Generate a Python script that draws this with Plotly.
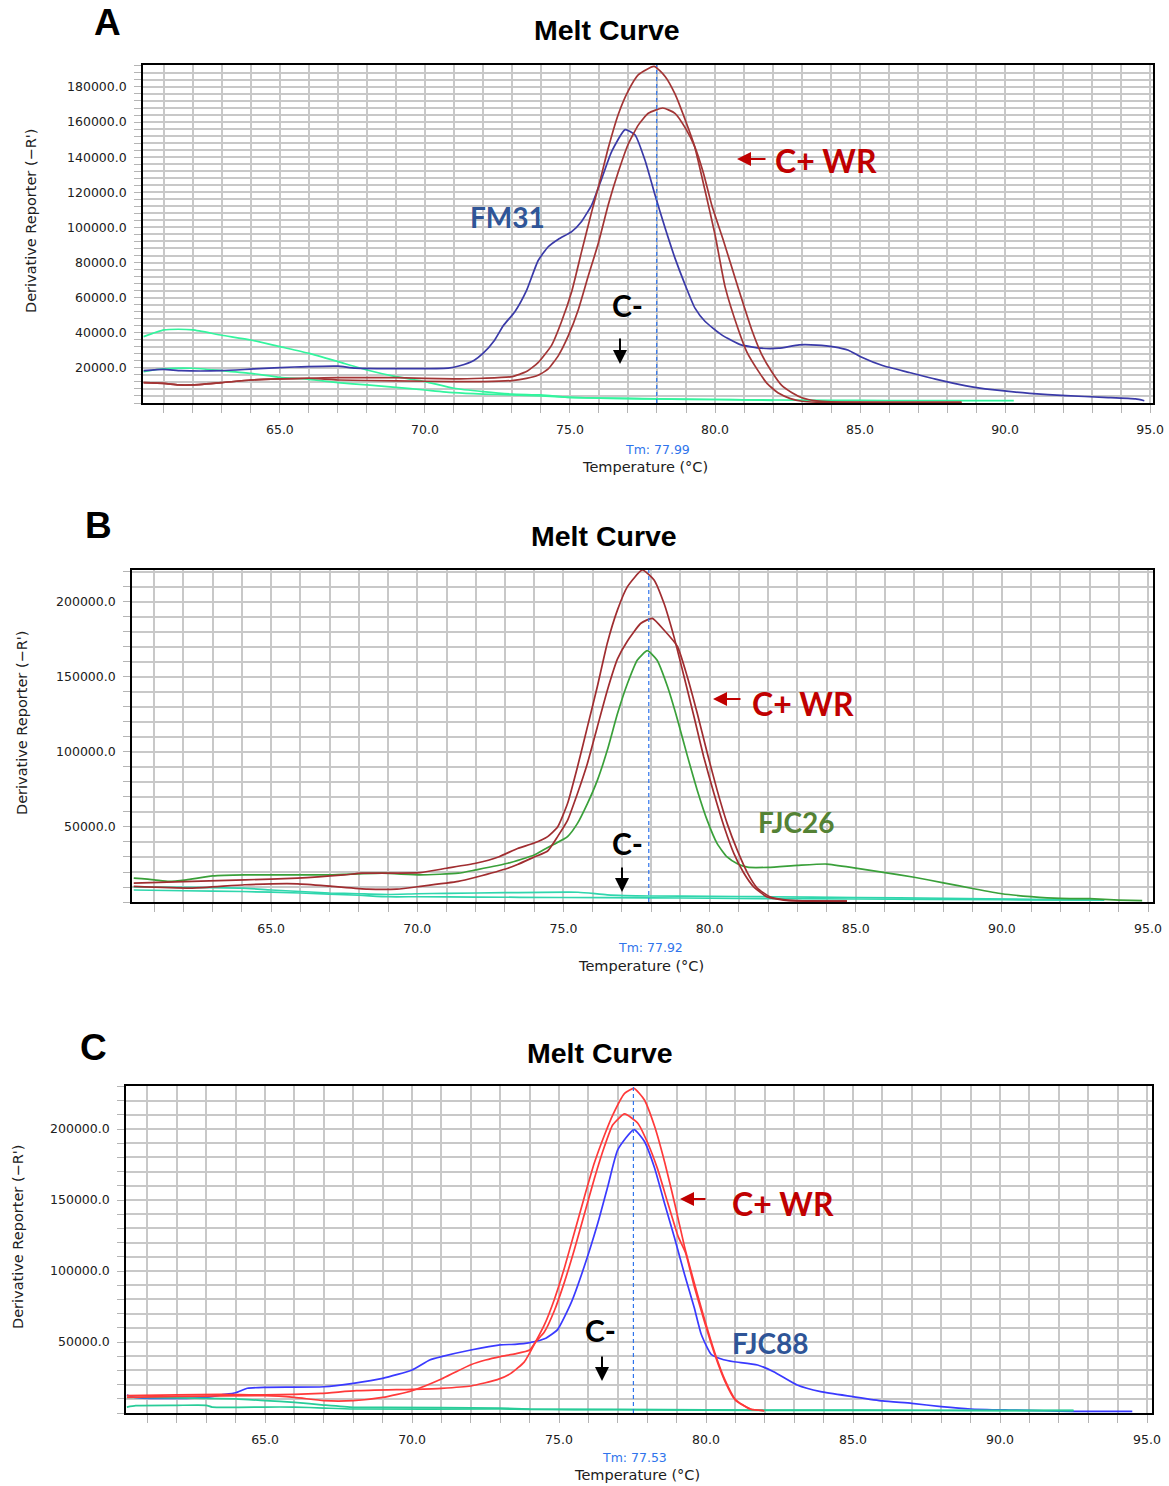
import plotly.graph_objects as go

W, H = 1169, 1486

# ---------------- Panel A data ----------------
a_cyan1_t = [60.3, 61.0, 61.5, 62.0, 63.0, 64.0, 65.0, 66.0, 67.0, 68.0, 69.0, 70.0, 71.0, 72.0, 73.0, 74.0, 75.0, 76.0, 77.0, 78.0, 79.0, 80.0, 81.0, 82.0]
a_cyan1_v = [37800, 41600, 42000, 41600, 38600, 35900, 32100, 28300, 23600, 18800, 15000, 12200, 8400, 6500, 5100, 4600, 3200, 2800, 2500, 2300, 2000, 2000, 1800, 1500]
a_cyan2_t = [60.3, 61.0, 62.0, 63.0, 64.0, 65.0, 66.0, 67.0, 68.0, 69.0, 70.0, 71.0, 72.0, 73.0, 74.0, 75.0, 76.0, 78.0, 80.0, 82.0, 84.0, 86.0, 88.0, 90.3]
a_cyan2_v = [17900, 19500, 19800, 18400, 16900, 14600, 13500, 11600, 10300, 8900, 7400, 5900, 5100, 4600, 4000, 3200, 2800, 2400, 2000, 1700, 1500, 1400, 1300, 1300]
a_blue_t = [60.3, 61.0, 61.6, 63.0, 64.1, 65.5, 67.0, 67.6, 70.8, 71.2, 71.7, 72.0, 72.4, 72.7, 73.1, 73.5, 73.9, 74.25, 74.6, 75.06, 75.4, 75.75, 76.1, 76.44, 76.9, 77.24, 77.6, 77.93, 78.28, 78.62, 78.97, 79.31, 79.66, 80.23, 80.9, 81.6, 82.2, 82.9, 83.5, 84.1, 84.6, 85.0, 85.8, 86.7, 87.6, 88.66, 89.56, 90.85, 92.1, 93.4, 94.5, 94.8]
a_blue_v = [18400, 19100, 18400, 18400, 19400, 20500, 21000, 19900, 19900, 21200, 24400, 28200, 35800, 44000, 52000, 64000, 81000, 89000, 93300, 97600, 103400, 112900, 128100, 143300, 155700, 152800, 137600, 118600, 99600, 82500, 67300, 54000, 46400, 38800, 33100, 31200, 31200, 33100, 33000, 32000, 30000, 26500, 21200, 17400, 13600, 9800, 7600, 5500, 4200, 3200, 2300, 1300]
a_red1_t = [60.3, 61.0, 61.5, 62.0, 63.0, 64.0, 65.0, 66.0, 67.0, 69.0, 71.0, 72.0, 73.0, 73.5, 73.9, 74.37, 74.71, 75.06, 75.4, 75.75, 76.03, 76.32, 76.67, 77.0, 77.36, 77.9, 78.28, 78.62, 79.0, 79.3, 79.6, 80.0, 80.35, 80.8, 81.1, 81.5, 81.8, 82.2, 82.6, 83.0, 83.5, 85.0, 88.5]
a_red1_v = [11600, 11200, 10300, 10300, 11600, 13100, 13700, 14100, 14400, 14400, 13700, 14100, 15000, 17900, 23000, 33000, 46400, 63500, 86200, 109000, 126200, 145200, 164600, 177500, 187000, 191700, 186000, 176000, 160000, 146000, 125000, 96000, 66000, 42000, 29000, 18000, 11000, 5500, 2500, 1000, 500, 400, 400]
a_red2_t = [60.3, 61.0, 61.5, 62.0, 63.0, 64.0, 65.0, 66.0, 67.0, 69.0, 71.0, 72.0, 73.0, 73.5, 73.9, 74.25, 74.6, 74.94, 75.29, 75.63, 75.98, 76.32, 76.67, 77.0, 77.36, 77.7, 78.2, 78.62, 79.0, 79.3, 79.6, 79.9, 80.3, 80.8, 81.26, 81.6, 81.95, 82.3, 82.64, 83.0, 83.5, 84.0, 86.0, 88.5]
a_red2_v = [11600, 11200, 10300, 10300, 11600, 13100, 13700, 14100, 13100, 12600, 12200, 12200, 12800, 14000, 15800, 19400, 27000, 38200, 53300, 72300, 91100, 112900, 131800, 147100, 158400, 165000, 168000, 165000, 156000, 146000, 131000, 112000, 92000, 65500, 42000, 28000, 17900, 10000, 6000, 3000, 1200, 600, 400, 400]

# ---------------- Panel B data ----------------
b_cyan1_t = [60.3, 62, 64, 65, 66, 67, 68, 69, 70, 71, 73, 75.5, 76.5, 78, 80, 82, 85, 88, 91, 93.5]
b_cyan1_v = [10000, 9800, 9300, 8000, 7000, 6000, 5500, 5000, 5500, 5800, 6200, 6500, 4800, 4000, 3800, 3500, 3000, 2500, 1800, 1300]
b_cyan2_t = [60.3, 62, 64, 66, 68, 69, 70, 72, 75, 78, 80, 85, 90, 93.5]
b_cyan2_v = [8000, 7500, 7000, 6000, 4500, 3500, 3500, 3300, 3000, 2800, 2500, 2000, 1500, 1300]
b_green_t = [60.3, 61.0, 61.5, 62.1, 63.0, 64.1, 67.0, 68.8, 70.1, 71.4, 72.0, 73.1, 74.0, 74.34, 74.68, 75.14, 75.48, 75.82, 76.16, 76.5, 76.85, 77.19, 77.53, 77.87, 78.2, 78.56, 78.9, 79.24, 79.58, 79.92, 80.26, 80.6, 80.95, 81.3, 82.0, 83.0, 84.0, 85.0, 86.0, 87.0, 88.0, 89.0, 90.0, 91.0, 92.0, 93.0, 94.0, 94.8]
b_green_v = [15900, 14800, 13700, 14800, 17400, 18100, 18100, 19200, 18100, 19200, 21400, 25800, 31300, 35000, 38500, 43600, 52400, 65600, 81100, 101100, 125600, 145600, 161300, 167500, 161300, 143600, 121700, 97400, 74400, 54400, 38900, 30000, 25500, 23200, 23100, 24400, 25300, 22600, 19600, 16500, 12800, 9000, 5500, 3600, 2400, 2200, 1300, 900]
b_red1_t = [60.3, 62.3, 64.1, 65.9, 67.5, 68.1, 70.1, 71.0, 72.0, 72.8, 73.43, 74.0, 74.46, 74.8, 75.14, 75.48, 75.82, 76.16, 76.5, 76.85, 77.19, 77.7, 78.1, 78.44, 78.78, 79.13, 79.47, 79.8, 80.15, 80.5, 80.83, 81.17, 81.5, 81.97, 82.54, 83.0, 84.7]
b_red1_v = [12600, 13700, 14800, 15900, 18100, 19200, 19600, 22500, 25800, 30200, 35700, 39300, 43600, 50000, 65600, 90000, 116700, 143600, 172500, 194700, 210200, 221300, 214700, 199100, 176900, 150000, 123300, 96700, 72300, 50000, 32400, 19300, 10300, 3300, 1300, 800, 600]
b_red2_t = [60.3, 62.3, 64.1, 65.9, 67.1, 68.3, 69.3, 70.1, 71.4, 72.0, 73.1, 73.43, 74.0, 74.46, 74.8, 75.14, 75.48, 75.82, 76.16, 76.5, 76.85, 77.19, 77.65, 78.04, 78.44, 78.9, 79.24, 79.58, 79.92, 80.26, 80.6, 80.95, 81.3, 81.63, 82.08, 82.65, 83.5, 84.7]
b_red2_v = [10400, 9300, 11500, 12100, 10400, 8600, 8600, 10400, 13700, 16500, 22500, 25000, 30000, 34000, 43600, 54400, 72300, 92300, 116700, 141000, 162000, 174000, 185800, 189100, 181300, 170300, 150000, 125600, 99300, 74400, 52400, 34400, 19300, 9300, 3300, 1300, 700, 600]

# ---------------- Panel C data ----------------
c_cyan1_t = [60.3, 62, 64, 65, 66, 67, 68, 69, 73, 74, 77, 80, 85, 90, 92.5]
c_cyan1_v = [11000, 10600, 9900, 8700, 7500, 5600, 4000, 4000, 3500, 2800, 2500, 2200, 2000, 1900, 1800]
c_cyan2_t = [60.3, 60.6, 62, 63, 63.2, 65, 66, 67, 68, 73, 74, 77, 80, 85, 90, 92.5]
c_cyan2_v = [4200, 5200, 5400, 5400, 4200, 4200, 4200, 3500, 2800, 2800, 2500, 2300, 2000, 1800, 1700, 1700]
c_blue_t = [60.3, 60.57, 62, 63, 63.5, 64.0, 64.4, 65, 67, 68, 69, 70, 70.6, 71, 72, 73, 73.5, 74.0, 74.55, 74.95, 75.41, 75.86, 76.32, 76.66, 77.0, 77.55, 77.9, 78.25, 78.6, 78.93, 79.27, 79.6, 79.84, 80.18, 80.6, 80.95, 81.75, 82.3, 83.1, 83.9, 85.0, 86.0, 87.0, 88.0, 89.0, 90.3, 91.5, 92.5, 94.5]
c_blue_v = [12700, 11000, 10300, 11000, 12700, 14300, 17400, 18100, 18500, 20900, 24400, 30300, 37300, 39700, 44400, 48000, 48400, 49600, 52700, 58700, 77500, 103300, 133800, 159700, 185500, 199600, 191400, 172600, 146800, 123300, 97500, 74100, 55300, 41200, 37500, 36100, 33800, 29100, 19700, 15000, 11500, 8500, 6800, 4500, 2800, 2100, 1600, 1200, 1200]
c_red1_t = [60.3, 62, 63.5, 65, 66.9, 68.1, 70, 71, 72, 72.9, 73.36, 73.82, 74.2, 74.5, 74.84, 75.18, 75.52, 75.86, 76.2, 76.55, 76.83, 77.23, 77.55, 77.9, 78.25, 78.6, 78.93, 79.27, 79.6, 79.95, 80.3, 80.64, 81.0, 81.5, 81.98]
c_red1_v = [12200, 12700, 13100, 12700, 13800, 15700, 16700, 17400, 19000, 23500, 27900, 36000, 50000, 62000, 80000, 102000, 127000, 152000, 176000, 196000, 210000, 225100, 228600, 220600, 201900, 176100, 147900, 117000, 91600, 65800, 42300, 23500, 9400, 2800, 1600]
c_red2_t = [60.3, 62, 65, 66, 67, 68, 69, 70, 71, 71.5, 72, 72.5, 73, 73.5, 74.0, 74.2, 74.5, 74.84, 75.18, 75.52, 75.86, 76.2, 76.55, 76.83, 77.23, 77.68, 78.02, 78.36, 78.7, 79.05, 79.3, 79.6, 79.95, 80.3, 80.64, 81.0, 81.5, 81.98]
c_red2_v = [11000, 11700, 12200, 11000, 8700, 8700, 11000, 15700, 23900, 29100, 34000, 37300, 39700, 41600, 44400, 50000, 57000, 72000, 92000, 115000, 140000, 165000, 188000, 203000, 210600, 204100, 190000, 171400, 147900, 124400, 113000, 89000, 64000, 41000, 22500, 9000, 2800, 1600]

x_ticks = [65, 70, 75, 80, 85, 90, 95]
a_y_ticks = [20000, 40000, 60000, 80000, 100000, 120000, 140000, 160000, 180000]
bc_y_ticks = [50000, 100000, 150000, 200000]
tm_values = [77.99, 77.92, 77.53]
panel_letters = ["A", "B", "C"]

# ---------------- helpers ----------------
def px(x):
    return x / W

def py(y):
    return 1 - y / H

GRID = "#c8c8c8"
TICKC = "#b4b4b4"
TICKFONT = dict(family="DejaVu Sans", size=12.5, color="#202020")

fig = go.Figure()

panels = [
    dict(sfx="", xpix=(143, 1153), ypix=(65, 403), xr=[60.28, 95.10], yr=[0, 192500],
         yt=a_y_ticks, ydt=4000,
         series=[(a_cyan1_t, a_cyan1_v, "#33f59e"), (a_cyan2_t, a_cyan2_v, "#33f59e"),
                 (a_blue_t, a_blue_v, "#3a3aa8"),
                 (a_red1_t, a_red1_v, "#a33535"), (a_red2_t, a_red2_v, "#a33535")]),
    dict(sfx="2", xpix=(132, 1153), ypix=(570, 902), xr=[60.24, 95.17], yr=[0, 221300],
         yt=bc_y_ticks, ydt=10000,
         series=[(b_cyan1_t, b_cyan1_v, "#2fd6ad"), (b_cyan2_t, b_cyan2_v, "#2fd6ad"),
                 (b_green_t, b_green_v, "#3aa03a"),
                 (b_red1_t, b_red1_v, "#a02d30"), (b_red2_t, b_red2_v, "#a02d30")]),
    dict(sfx="3", xpix=(126, 1152), ypix=(1086, 1413), xr=[60.27, 95.17], yr=[0, 230300],
         yt=bc_y_ticks, ydt=10000,
         series=[(c_blue_t, c_blue_v, "#3a3aff"),
                 (c_cyan1_t, c_cyan1_v, "#28cc98"), (c_cyan2_t, c_cyan2_v, "#28cc98"),
                 (c_red1_t, c_red1_v, "#ff3a3a"), (c_red2_t, c_red2_v, "#ff3a3a")]),
]

layout = {}
shapes = []
for i, p in enumerate(panels):
    xa = "x" + p["sfx"]
    ya = "y" + p["sfx"]
    for (t, v, col) in p["series"]:
        fig.add_trace(go.Scatter(x=t, y=v, mode="lines", xaxis=xa, yaxis=ya,
                                 line=dict(color=col, width=1.7, shape="spline", smoothing=0.5),
                                 hoverinfo="skip", showlegend=False))
    layout["xaxis" + p["sfx"]] = dict(
        domain=[px(p["xpix"][0]), px(p["xpix"][1])], range=p["xr"], anchor=ya,
        automargin=False,
        tickmode="array", tickvals=x_ticks, tickformat=".1f",
        ticks="outside", ticklen=8, tickwidth=1, tickcolor=TICKC,
        showgrid=True, gridcolor=GRID, gridwidth=1.5,
        minor=dict(tickmode="linear", tick0=60, dtick=1, ticks="outside", ticklen=8,
                   tickwidth=1, tickcolor=TICKC, showgrid=True, gridcolor=GRID, gridwidth=1.5),
        showline=True, linecolor="black", linewidth=1.6, mirror=True, zeroline=False,
        tickfont=TICKFONT, ticklabelstandoff=6, fixedrange=True)
    layout["yaxis" + p["sfx"]] = dict(
        domain=[py(p["ypix"][1]), py(p["ypix"][0])], range=p["yr"], anchor=xa,
        automargin=False,
        tickmode="array", tickvals=p["yt"], tickformat=".1f",
        ticks="outside", ticklen=7, tickwidth=1, tickcolor=TICKC,
        showgrid=True, gridcolor=GRID, gridwidth=1.5,
        minor=dict(tickmode="linear", tick0=0, dtick=p["ydt"], ticks="outside", ticklen=7,
                   tickwidth=1, tickcolor=TICKC, showgrid=True, gridcolor=GRID, gridwidth=1.5),
        showline=True, linecolor="black", linewidth=1.6, mirror=True, zeroline=False,
        tickfont=TICKFONT, ticklabelstandoff=5, fixedrange=True)
    shapes.append(dict(type="line", xref=xa, yref=ya + " domain", x0=tm_values[i], x1=tm_values[i],
                       y0=0, y1=1, line=dict(color="#2f74ec", width=1.2, dash="4px,3px")))

annotations = []

def text(x, y, s, size, color="black", family="Liberation Sans", bold=True, angle=0):
    annotations.append(dict(x=px(x), y=py(y), xref="paper", yref="paper", text=("<b>%s</b>" % s) if bold else s,
                            showarrow=False, xanchor="center", yanchor="middle", textangle=angle,
                            font=dict(family=family, size=size, color=color)))

def arrow(x_head, y_head, x_tail, y_tail, color):
    annotations.append(dict(x=px(x_head), y=py(y_head), xref="paper", yref="paper", text="",
                            showarrow=True, ax=x_tail - x_head, ay=y_tail - y_head, axref="pixel", ayref="pixel",
                            arrowhead=2, arrowsize=1.4, arrowwidth=2, arrowcolor=color))

LBL = "Lato"
DKRED = "#c00000"

# panel letters and titles
text(107, 22, panel_letters[0], 37)
text(98, 525, panel_letters[1], 37)
text(93, 1047, panel_letters[2], 37)
for (cx, cy) in [(607, 30), (604, 536), (600, 1053)]:
    text(cx, cy, "Melt Curve", 28.5)

# axis titles
for (cx, cy) in [(645, 467), (641, 966), (637, 1475)]:
    text(cx, cy, "Temperature (°C)", 14.5, color="#202020", family="DejaVu Sans", bold=False)
for (cx, cy) in [(31, 221), (22, 723), (18, 1237)]:
    text(cx, cy, "Derivative Reporter (\u2212R')", 14.5, color="#202020", family="DejaVu Sans", bold=False, angle=-90)

# Tm labels
for (cx, cy, tm) in [(657, 449, tm_values[0]), (650, 947, tm_values[1]), (634, 1457, tm_values[2])]:
    text(cx, cy, "Tm: %.2f" % tm, 12.5, color="#2f74ec", family="DejaVu Sans", bold=False)

# Panel A annotations
text(826, 160, "C+ WR", 32, color=DKRED, family=LBL)
arrow(737, 159, 767, 159, DKRED)
text(507, 217, "FM31", 28, color="#2f5597", family=LBL)
text(627, 305, "C-", 30, family=LBL)
arrow(620, 364, 620, 337, "black")

# Panel B annotations
text(803, 703, "C+ WR", 32, color=DKRED, family=LBL)
arrow(713, 699, 742, 699, DKRED)
text(796, 822, "FJC26", 28, color="#548235", family=LBL)
text(627, 843, "C-", 30, family=LBL)
arrow(622, 892, 622, 866, "black")

# Panel C annotations
text(783, 1203, "C+ WR", 32, color=DKRED, family=LBL)
arrow(680, 1199, 707, 1199, DKRED)
text(770, 1343, "FJC88", 28, color="#2f5597", family=LBL)
text(600, 1330, "C-", 30, family=LBL)
arrow(602, 1381, 602, 1355, "black")

fig.update_layout(width=W, height=H, margin=dict(l=0, r=0, t=0, b=0, autoexpand=False), autosize=False,
                  paper_bgcolor="white", plot_bgcolor="white", shapes=shapes, annotations=annotations,
                  **layout)

fig.write_html("out.html", config={"displayModeBar": False},
               post_script="document.body.style.margin='0';")
